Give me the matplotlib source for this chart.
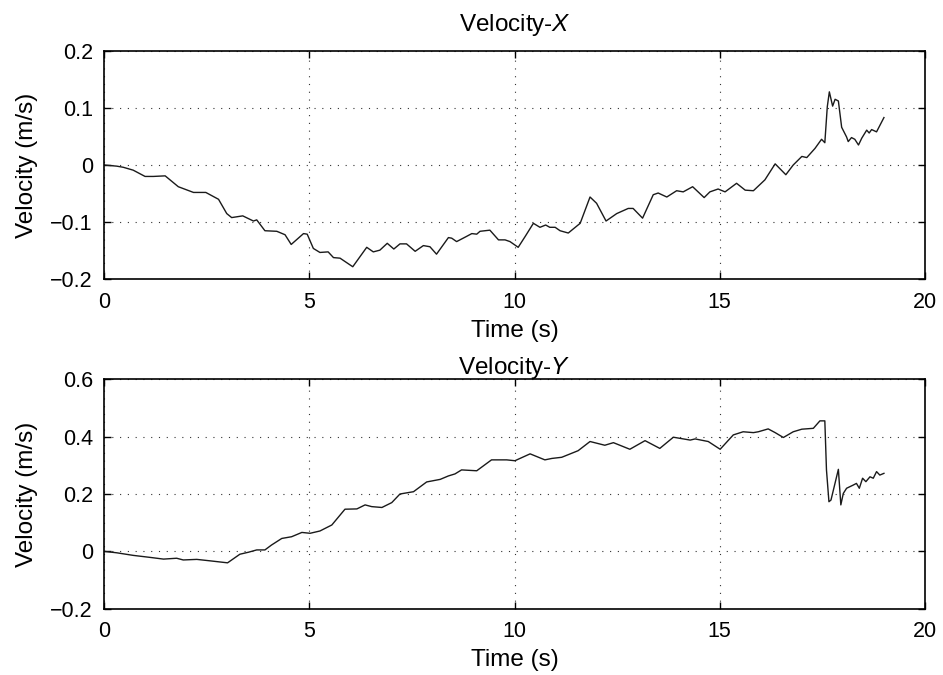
import matplotlib
matplotlib.use("Agg")
import matplotlib.pyplot as plt

plt.rcParams['font.family'] = ['Liberation Sans', 'DejaVu Sans']
plt.rcParams['mathtext.fontset'] = 'custom'
plt.rcParams['mathtext.rm'] = 'Liberation Sans'
plt.rcParams['mathtext.it'] = 'Liberation Sans:italic'

# Velocity-X samples (time s, velocity m/s)
tx = [0, 0.31, 0.47, 0.71, 1.0, 1.2, 1.49, 1.81, 2.18, 2.48, 2.79, 2.99, 3.11, 3.38,
      3.64, 3.72, 3.92, 4.21, 4.41, 4.56, 4.86, 4.95, 5.1, 5.26, 5.46, 5.59, 5.75,
      6.06, 6.4, 6.56, 6.72, 6.9, 7.06, 7.21, 7.37, 7.58, 7.78, 7.94, 8.1, 8.39,
      8.47, 8.59, 8.83, 8.96, 9.08, 9.16, 9.4, 9.61, 9.77, 9.89, 10.09, 10.26,
      10.46, 10.62, 10.76, 10.86, 10.99, 11.11, 11.31, 11.6, 11.84, 12.0, 12.23,
      12.49, 12.77, 12.89, 13.12, 13.38, 13.5, 13.71, 13.95, 14.11, 14.34, 14.62,
      14.76, 14.96, 15.13, 15.41, 15.62, 15.82, 16.1, 16.35, 16.61, 16.79, 17.0,
      17.12, 17.32, 17.48, 17.56, 17.62, 17.67, 17.75, 17.81, 17.89, 17.97, 18.09,
      18.13, 18.21, 18.29, 18.38, 18.46, 18.58, 18.64, 18.7, 18.82, 19.0]
vx = [0, -0.002, -0.004, -0.009, -0.02, -0.02, -0.019, -0.038, -0.048, -0.048,
      -0.06, -0.085, -0.092, -0.089, -0.098, -0.096, -0.115, -0.116, -0.122, -0.139,
      -0.12, -0.121, -0.146, -0.153, -0.152, -0.162, -0.163, -0.178, -0.144, -0.152,
      -0.149, -0.137, -0.147, -0.138, -0.138, -0.151, -0.141, -0.143, -0.156, -0.127,
      -0.128, -0.134, -0.125, -0.12, -0.121, -0.116, -0.114, -0.131, -0.131, -0.134,
      -0.144, -0.125, -0.102, -0.109, -0.105, -0.109, -0.109, -0.115, -0.119, -0.102,
      -0.056, -0.067, -0.098, -0.085, -0.076, -0.076, -0.093, -0.052, -0.049, -0.056,
      -0.045, -0.047, -0.038, -0.057, -0.047, -0.042, -0.047, -0.032, -0.044, -0.045,
      -0.026, 0.002, -0.017, 0.0, 0.015, 0.013, 0.029, 0.045, 0.039, 0.102, 0.128,
      0.103, 0.115, 0.112, 0.066, 0.049, 0.041, 0.048, 0.045, 0.035, 0.047, 0.061,
      0.056, 0.062, 0.058, 0.083]

# Velocity-Y samples
ty = [0, 0.31, 0.71, 1.12, 1.45, 1.77, 1.93, 2.26, 2.58, 3.01, 3.31, 3.52, 3.72,
      3.92, 4.08, 4.33, 4.57, 4.82, 5.02, 5.26, 5.55, 5.87, 6.16, 6.36, 6.52, 6.77,
      7.01, 7.21, 7.54, 7.86, 8.19, 8.39, 8.55, 8.71, 9.08, 9.44, 9.81, 10.01,
      10.38, 10.74, 10.91, 11.15, 11.55, 11.84, 12.2, 12.41, 12.81, 13.18, 13.54,
      13.87, 14.28, 14.4, 14.72, 15.01, 15.33, 15.57, 15.82, 15.94, 16.18, 16.35,
      16.55, 16.79, 17.0, 17.28, 17.44, 17.56, 17.6, 17.66, 17.71, 17.89, 17.95,
      18.01, 18.09, 18.25, 18.33, 18.4, 18.48, 18.56, 18.66, 18.74, 18.82, 18.9, 19.0]
vy = [0, -0.005, -0.014, -0.021, -0.027, -0.024, -0.03, -0.028, -0.033, -0.04,
      -0.01, -0.003, 0.005, 0.005, 0.022, 0.045, 0.051, 0.066, 0.063, 0.071, 0.092,
      0.147, 0.148, 0.162, 0.156, 0.153, 0.17, 0.2, 0.208, 0.242, 0.251, 0.263, 0.27,
      0.284, 0.281, 0.319, 0.319, 0.316, 0.34, 0.319, 0.324, 0.328, 0.351, 0.383,
      0.37, 0.379, 0.356, 0.386, 0.359, 0.398, 0.388, 0.392, 0.383, 0.356, 0.406,
      0.417, 0.414, 0.417, 0.427, 0.414, 0.397, 0.417, 0.426, 0.429, 0.455, 0.455,
      0.284, 0.173, 0.179, 0.286, 0.162, 0.202, 0.22, 0.231, 0.237, 0.22, 0.255,
      0.243, 0.26, 0.255, 0.278, 0.266, 0.272]

titles = ["Velocity-$\\mathit{X}$", "Velocity-$\\mathit{Y}$"]
ylims = [(-0.2, 0.2), (-0.2, 0.6)]
yticks = [[-0.2, -0.1, 0, 0.1, 0.2], [-0.2, 0, 0.2, 0.4, 0.6]]
ytick_labels = [["\u22120.2", "\u22120.1", "0", "0.1", "0.2"],
                ["\u22120.2", "0", "0.2", "0.4", "0.6"]]
xticks = [0, 5, 10, 15, 20]

fig = plt.figure(figsize=(9.43, 6.75), dpi=100)
ax1 = fig.add_axes([0.1103, 0.5862, 0.8706, 0.3387])
ax2 = fig.add_axes([0.1103, 0.0982, 0.8706, 0.3399])

for ax, t, v, ttl, yl, yt, ytl, pad in zip([ax1, ax2], [tx, ty], [vx, vy], titles,
                                           ylims, yticks, ytick_labels, [14, 4]):
    ax.plot(t, v, color="#1a1a1a", lw=1.0)
    ax.set_xlim(0, 20)
    ax.set_ylim(*yl)
    ax.set_xticks(xticks)
    ax.set_yticks(yt)
    ax.set_yticklabels(ytl)
    ax.tick_params(direction="in", top=True, right=True, length=5, width=1,
                   labelsize=15.5)
    ax.tick_params(axis="x", pad=9)
    ax.tick_params(axis="y", pad=8)
    ax.grid(True, color="#333333", linestyle=(0, (1, 6)), lw=0.8)
    for s in ax.spines.values():
        s.set_linewidth(1.2)
    ax.set_title(ttl, fontsize=17.5, pad=pad)
    ax.set_xlabel("Time (s)", fontsize=17.5, labelpad=5)
    ax.set_ylabel("Velocity (m/s)", fontsize=17.5, labelpad=9)

fig.savefig("out.png", dpi=100)
